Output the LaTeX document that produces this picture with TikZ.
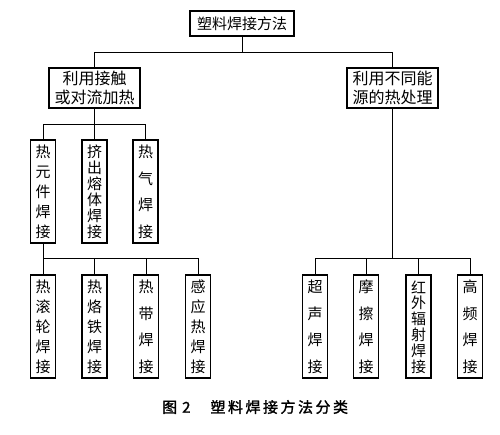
\documentclass[tikz,border=0pt]{standalone}
\usepackage{fontspec}
\setmainfont{Noto Sans CJK SC}
\newfontfamily\capfont[FakeBold=1.5]{Noto Sans CJK SC}
\newcommand\vertbox[4]{%
  \node[box,minimum width=25pt,minimum height=103pt] (#1) at (#2,#3+51.5) {};
  \foreach \c [count=\i] in {#4} {\xdef\nch{\i}}
  \foreach \c [count=\i] in {#4} {\node[ch] (#1c\i) at (#2,{#3+12+(\i-1)*80/(\nch-1)}) {\c};}
}
\newcommand\capsp{\hspace{2.5pt}}
\begin{document}
\begin{tikzpicture}[x=1pt,y=-1pt,
  box/.style={draw,line width=1.3pt,inner sep=0pt},
  conn/.style={line width=0.8pt},
  ch/.style={inner sep=0pt,font=\fontsize{15}{15}\selectfont}]
\fill[white] (0,0) rectangle (500,435);
\useasboundingbox (0,0) rectangle (500,435);
% upper levels
\node[box,minimum width=104pt,minimum height=25pt,font=\fontsize{15}{15}\selectfont] (top) at (242,23.5) {塑料焊接方法};
\node[box,minimum width=91pt,minimum height=40pt,align=center,font=\fontsize{16}{19}\selectfont] (L) at (94.5,88) {利用接触\\或对流加热};
\node[box,minimum width=91pt,minimum height=40pt,align=center,font=\fontsize{16}{19}\selectfont] (R) at (392.5,88) {利用不同能\\源的热处理};
% row 1
\vertbox{a1}{43}{140}{热,元,件,焊,接}
\vertbox{a2}{94.5}{140}{挤,出,熔,体,焊,接}
\vertbox{a3}{145.5}{140}{热,气,焊,接}
% row 2 left
\vertbox{b1}{43}{275}{热,滚,轮,焊,接}
\vertbox{b2}{94.5}{275}{热,烙,铁,焊,接}
\vertbox{b3}{146}{275}{热,带,焊,接}
\vertbox{b4}{198}{275}{感,应,热,焊,接}
% row 2 right
\vertbox{c1}{315}{275}{超,声,焊,接}
\vertbox{c2}{366}{275}{摩,擦,焊,接}
\vertbox{c3}{418.5}{275}{红,外,辐,射,焊,接}
\vertbox{c4}{470}{275}{高,频,焊,接}
% connectors
\coordinate (bus1) at (0,52);
\coordinate (bus2) at (0,124);
\coordinate (bus3) at (0,258);
\draw[conn] (top.south) -- (top.south |- bus1);
\draw[conn] (L.north) |- (bus1 -| R.north) -- (R.north);
\draw[conn] (L.south) -- (L.south |- bus2);
\draw[conn] (a1.north) |- (bus2 -| a3.north) -- (a3.north);
\draw[conn] (a2.north) -- (a2.north |- bus2);
\draw[conn] (a1.south) -- (b1.north);
\draw[conn] (b1.north |- bus3) -| (b4.north);
\draw[conn] (b2.north) -- (b2.north |- bus3);
\draw[conn] (b3.north) -- (b3.north |- bus3);
\draw[conn] (R.south) -- (R.south |- bus3);
\draw[conn] (c1.north) |- (bus3 -| c4.north) -- (c4.north);
\draw[conn] (c2.north) -- (c2.north |- bus3);
\draw[conn] (c3.north) -- (c3.north |- bus3);
% caption
\node[inner sep=0pt,anchor=west,font=\capfont\fontsize{15}{15}\selectfont] (cap) at (162,407) {图\hspace{5pt}2\hspace{20pt}塑\capsp 料\capsp 焊\capsp 接\capsp 方\capsp 法\capsp 分\capsp 类};
\end{tikzpicture}
\end{document}
